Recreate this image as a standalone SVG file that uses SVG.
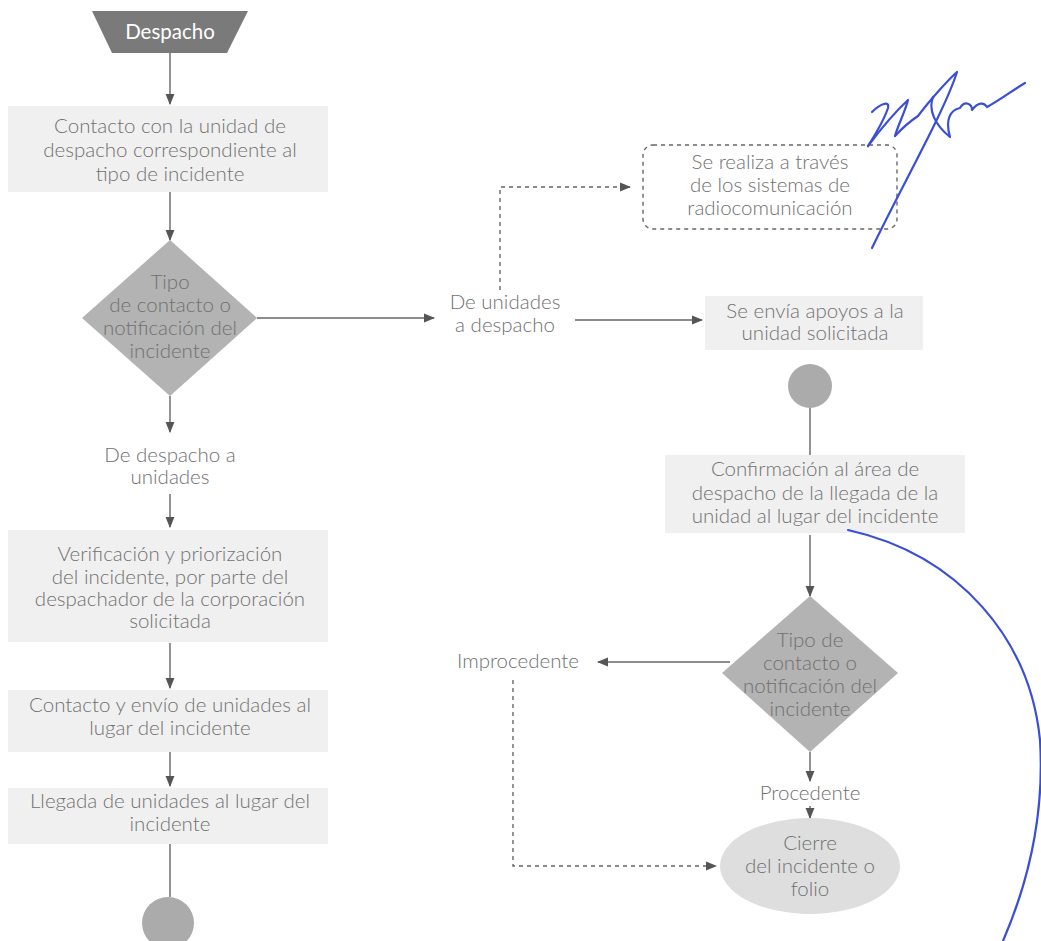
<svg xmlns="http://www.w3.org/2000/svg" width="1041" height="941" viewBox="0 0 1041 941">
<defs>
<style>
.t{font-family:Lato,"Open Sans","Liberation Sans",sans-serif;font-size:20.5px;font-weight:300;fill:#707070;text-anchor:middle}
.w{fill:#fff;font-weight:400}
.box{fill:#f0f0f0}
.dia{fill:#b3b3b3}
.ln{stroke:#666;stroke-width:1.4;fill:none}
.dash{stroke:#666;stroke-width:1.4;fill:none;stroke-dasharray:4 4}
.ink{stroke:#3a4fd6;stroke-width:2.2;fill:none;stroke-linecap:round;stroke-linejoin:round}
</style>
<marker id="ah" viewBox="0 0 10 10" refX="9" refY="5" markerWidth="8" markerHeight="8" orient="auto">
<path d="M0 1 L10 5 L0 9 Z" fill="#555"/>
</marker>
</defs>
<rect width="1041" height="941" fill="#fff"/>

<g id="connectors">
<line class="ln" x1="170" y1="53" x2="170" y2="104" marker-end="url(#ah)"/>
<line class="ln" x1="170" y1="192" x2="170" y2="240" marker-end="url(#ah)"/>
<line class="ln" x1="257" y1="318" x2="434" y2="318" marker-end="url(#ah)"/>
<line class="ln" x1="170" y1="396" x2="170" y2="432" marker-end="url(#ah)"/>
<line class="ln" x1="170" y1="494" x2="170" y2="527" marker-end="url(#ah)"/>
<line class="ln" x1="170" y1="643" x2="170" y2="688" marker-end="url(#ah)"/>
<line class="ln" x1="170" y1="752" x2="170" y2="786" marker-end="url(#ah)"/>
<line class="ln" x1="170" y1="844" x2="170" y2="897"/>
<polyline class="dash" points="500,290 500,187 630,187" marker-end="url(#ah)"/>
<line class="ln" x1="575" y1="320" x2="702" y2="320" marker-end="url(#ah)"/>
<line class="ln" x1="810" y1="408" x2="810" y2="455"/>
<line class="ln" x1="810" y1="535" x2="810" y2="596" marker-end="url(#ah)"/>
<line class="ln" x1="730" y1="662" x2="598" y2="662" marker-end="url(#ah)"/>
<line class="ln" x1="810" y1="752" x2="810" y2="781" marker-end="url(#ah)"/>
<line class="ln" x1="810" y1="806" x2="810" y2="818" marker-end="url(#ah)"/>
<polyline class="dash" points="513,680 513,866 716,866" marker-end="url(#ah)"/>
</g>

<g id="n-despacho">
<polygon points="92,11 248,11 227,53 112,53" fill="#7a7a7a"/>
<text class="t w" x="170" y="39" font-size="19">Despacho</text>
</g>

<g id="n-contacto">
<rect class="box" x="8" y="106" width="320" height="86"/>
<text class="t" x="170" y="133">Contacto con la unidad de</text>
<text class="t" x="170" y="157">despacho correspondiente al</text>
<text class="t" x="170" y="181">tipo de incidente</text>
</g>

<g id="n-tipo1">
<polygon class="dia" points="170,240 257,318 170,396 82,318"/>
<text class="t" x="170" y="289">Tipo</text>
<text class="t" x="170" y="312">de contacto o</text>
<text class="t" x="170" y="335">notificación del</text>
<text class="t" x="170" y="358">incidente</text>
</g>

<g id="n-despacho-unidades">
<text class="t" x="170" y="462">De despacho a</text>
<text class="t" x="170" y="484">unidades</text>
</g>

<g id="n-verificacion">
<rect class="box" x="8" y="530" width="320" height="112"/>
<text class="t" x="170" y="561">Verificación y priorización</text>
<text class="t" x="170" y="584">del incidente, por parte del</text>
<text class="t" x="170" y="606">despachador de la corporación</text>
<text class="t" x="170" y="628">solicitada</text>
</g>

<g id="n-envio">
<rect class="box" x="8" y="690" width="320" height="62"/>
<text class="t" x="170" y="712">Contacto y envío de unidades al</text>
<text class="t" x="170" y="735">lugar del incidente</text>
</g>

<g id="n-llegada">
<rect class="box" x="8" y="788" width="320" height="56"/>
<text class="t" x="170" y="808">Llegada de unidades al lugar del</text>
<text class="t" x="170" y="831">incidente</text>
</g>

<g id="n-end1">
<circle cx="168" cy="923" r="26" fill="#ababab"/>
</g>

<g id="n-unidades-despacho">
<text class="t" x="505" y="309">De unidades</text>
<text class="t" x="505" y="332">a despacho</text>
</g>

<g id="n-radio">
<rect x="643" y="145" width="254" height="84" rx="10" fill="#fff" stroke="#666" stroke-width="1.4" stroke-dasharray="4 4"/>
<text class="t" x="770" y="169">Se realiza a través</text>
<text class="t" x="770" y="192">de los sistemas de</text>
<text class="t" x="770" y="215">radiocomunicación</text>
</g>

<g id="n-apoyos">
<rect class="box" x="705" y="296" width="218" height="54"/>
<text class="t" x="815" y="318">Se envía apoyos a la</text>
<text class="t" x="815" y="340">unidad solicitada</text>
</g>

<g id="n-start2">
<circle cx="810" cy="386" r="22" fill="#ababab"/>
</g>

<g id="n-confirmacion">
<rect class="box" x="665" y="455" width="300" height="78"/>
<text class="t" x="815" y="476">Confirmación al área de</text>
<text class="t" x="815" y="500">despacho de la llegada de la</text>
<text class="t" x="815" y="523">unidad al lugar del incidente</text>
</g>

<g id="n-tipo2">
<polygon class="dia" points="810,596 898,673 810,752 722,673"/>
<text class="t" x="810" y="647">Tipo de</text>
<text class="t" x="810" y="670">contacto o</text>
<text class="t" x="810" y="693">notificación del</text>
<text class="t" x="810" y="716">incidente</text>
</g>

<g id="n-improcedente">
<text class="t" x="518" y="668">Improcedente</text>
</g>

<g id="n-procedente">
<text class="t" x="810" y="800">Procedente</text>
</g>

<g id="n-cierre">
<ellipse cx="810" cy="866" rx="90" ry="48" fill="#dedede"/>
<text class="t" x="810" y="850">Cierre</text>
<text class="t" x="810" y="873">del incidente o</text>
<text class="t" x="810" y="896">folio</text>
</g>

<g id="ink">
<path class="ink" d="M872 112 C880 104 890 100 888 108 C884 120 875 135 868 146"/>
<path class="ink" d="M868 146 C880 130 895 112 908 100 C905 112 898 125 895 136"/>
<path class="ink" d="M895 136 C905 125 912 120 918 116 C930 100 948 80 957 72 C945 110 905 180 872 248"/>
<path class="ink" d="M933 97 C928 110 935 125 950 137 C945 120 950 110 960 108 C965 100 972 104 972 110 C978 102 984 102 987 107 C1000 100 1013 90 1025 83"/>
<path class="ink" d="M848 530 C960 555 1030 640 1040 740 C1045 820 1025 890 1003 941"/>
</g>
</svg>
